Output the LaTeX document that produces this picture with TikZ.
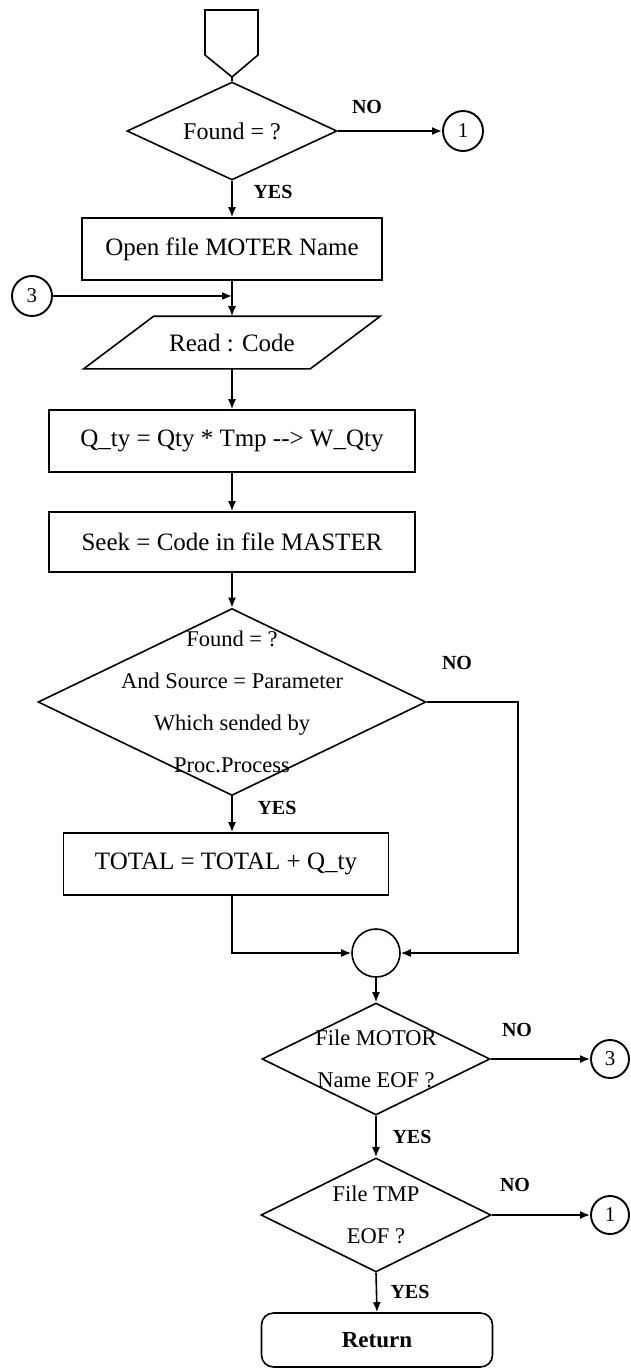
\documentclass[tikz,border=0pt]{standalone}
\usepackage{fontspec}
\setmainfont{Liberation Serif}
\usetikzlibrary{shapes.geometric,arrows.meta}
\begin{document}
\begin{tikzpicture}[x=1pt,y=-1pt,
  line width=1.6pt,
  >={Latex[length=10pt,width=8pt]},
  box/.style={draw, rectangle, inner sep=0pt, font=\fontsize{25}{30}\selectfont},
  dec/.style={draw, diamond, inner sep=0pt},
  dtext/.style={align=center, font=\fontsize{22.5}{42}\selectfont, inner sep=0pt},
  lbl/.style={font=\bfseries\fontsize{20}{22}\selectfont, inner sep=0pt},
  conn/.style={draw, circle, minimum size=40pt, inner sep=0pt, line width=1.9pt, font=\fontsize{21}{24}\selectfont},
  flow/.style={->}
]
\useasboundingbox (0,0) rectangle (631,1369);
\fill[white] (0,0) rectangle (631,1369);

% off-page entry connector
\draw (205,10) -- (258,10) -- (258,55) -- (232,77) -- (205,55) -- cycle;
\coordinate (st) at (232,77);

% decision 1
\node[dec, minimum width=210pt, minimum height=98pt] (d1) at (232,131) {};
\node[dtext, font=\fontsize{24}{28}\selectfont] (t1) at (d1) {Found = ?};
\draw (st) -- (d1.north);
\node[conn] (c1a) at (463,131) {1};
\draw[flow] (d1.east) -- (c1a.west);
\node[lbl] (no1) at (367,107) {NO};
\node[lbl] (yes1) at (273,192) {YES};

% open file
\node[box, minimum width=300pt, minimum height=62pt] (b1) at (232,249) {Open file MOTER Name};
\draw[flow] (d1.south) -- (b1.north);

% read code
\node[inner sep=0pt, minimum width=225pt, minimum height=51pt, font=\fontsize{25}{30}\selectfont] (p1) at (232,342.5) {Read : Code};
\draw ([xshift=35pt]p1.north west) -- ([xshift=35pt]p1.north east) -- ([xshift=-35pt]p1.south east) -- ([xshift=-35pt]p1.south west) -- cycle;
\draw[flow] (b1.south) -- (p1.north);
\node[conn] (c3a) at (32,296) {3};
\coordinate (j1) at (232,296);
\draw[flow] (c3a.east) -- (j1);

% process boxes
\node[box, minimum width=366pt, minimum height=62pt] (b2) at (232,441) {Q\_ty = Qty * Tmp -{}-> W\_Qty};
\draw[flow] (p1.south) -- (b2.north);
\node[box, minimum width=366pt, minimum height=60pt] (b3) at (232,542) {Seek = Code in file MASTER};
\draw[flow] (b2.south) -- (b3.north);

% decision 2
\node[dec, minimum width=388pt, minimum height=187pt] (d2) at (232,702) {};
\node[dtext] (t2) at (d2) {Found = ?\\And Source = Parameter\\Which sended by\\Proc.Process};
\draw[flow] (b3.south) -- (d2.north);
\node[lbl] (no2) at (457,663) {NO};
\node[lbl] (yes2) at (277,808) {YES};

% total
\node[box, minimum width=325pt, minimum height=62pt] (b4) at (226,864) {TOTAL = TOTAL + Q\_ty};
\draw[flow] (d2.south) -- (d2.south |- b4.north);

% merge
\node[draw, circle, minimum size=48pt, inner sep=0pt] (m) at (376,953) {};
\draw[flow] (d2.south |- b4.south) -- (d2.south |- m) -- (m.west);
\coordinate (r2) at (518,702);
\draw[flow] (d2.east) -- (r2) -- (r2 |- m) -- (m.east);

% decision 3
\node[dec, minimum width=228pt, minimum height=112pt] (d3) at (376,1059) {};
\node[dtext] (t3) at (d3) {File MOTOR\\Name EOF ?};
\draw[flow] (m.south) -- (d3.north);
\node[lbl] (no3) at (517,1030) {NO};
\node[conn, minimum size=38pt] (c3b) at (610,1059) {3};
\draw[flow] (d3.east) -- (c3b.west);
\node[lbl] (yes3) at (412,1137) {YES};

% decision 4
\node[dec, minimum width=230pt, minimum height=114pt] (d4) at (376,1215) {};
\node[dtext] (t4) at (d4) {File TMP\\EOF ?};
\draw[flow] (d3.south) -- (d4.north);
\node[lbl] (no4) at (515,1185) {NO};
\node[conn, minimum size=38pt] (c1b) at (610,1215) {1};
\draw[flow] (d4.east) -- (c1b.west);
\node[lbl] (yes4) at (410,1292) {YES};

% return
\node[draw, rounded corners=12pt, inner sep=0pt, minimum width=231pt, minimum height=54pt, font=\bfseries\fontsize{23}{28}\selectfont] (ret) at (377,1340) {Return};
\draw[flow] (d4.south) -- (ret.north);
\end{tikzpicture}
\end{document}
